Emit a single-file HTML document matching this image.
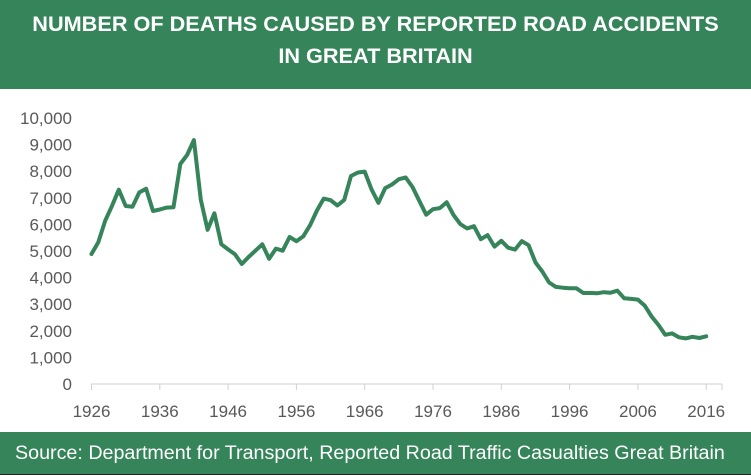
<!DOCTYPE html>
<html><head><meta charset="utf-8"><style>
body{margin:0;width:751px;height:476px;background:#fff;font-family:"Liberation Sans",sans-serif;overflow:hidden;position:relative}
.hdr{position:absolute;left:0;top:0;width:751px;height:89px;background:#35845a;color:#fff;font-weight:bold;font-size:21.7px;text-align:center;line-height:32px;padding-top:8px;box-sizing:border-box;white-space:nowrap}
.ftr{position:absolute;left:0;top:432px;width:751px;height:43px;background:#35845a;color:#fff;font-size:19.7px;line-height:42px;padding-left:15px;box-sizing:border-box;border-bottom:1px solid #222;white-space:nowrap}
svg{position:absolute;left:0;top:0}
</style></head><body>
<div class="hdr">NUMBER OF DEATHS CAUSED BY REPORTED ROAD ACCIDENTS<br>IN GREAT BRITAIN</div>
<svg id="s" width="751" height="476" font-family="Liberation Sans, sans-serif" font-size="17" fill="#595959"></svg>
<div class="ftr">Source: Department for Transport, Reported Road Traffic Casualties Great Britain</div>
<script>
var d=[4886,5329,6138,6696,7305,6691,6667,7202,7343,6502,6561,6633,6648,8272,8609,9169,6926,5796,6416,5256,5062,4881,4513,4773,5012,5250,4706,5090,5010,5526,5367,5550,5970,6520,6970,6908,6709,6922,7820,7952,7985,7319,6810,7365,7499,7699,7763,7406,6883,6366,6570,6614,6831,6352,6010,5846,5934,5445,5599,5165,5382,5125,5052,5373,5217,4568,4229,3814,3650,3621,3598,3599,3422,3423,3409,3450,3431,3508,3221,3201,3172,2946,2538,2222,1850,1901,1754,1713,1775,1730,1792];
var X=function(y){return 91.5+(y-1926)*6.83},Y=function(v){return 384-v*0.0266};
var h='';
for(var i=0;i<=10;i++){var v=i*1000;h+='<text x="72" y="'+(Y(v)+6)+'" text-anchor="end">'+(v?v.toLocaleString('en-US'):'0')+'</text>';}
h+='<line x1="91" y1="384" x2="722" y2="384" stroke="#d0d0d0"/>';
for(var y=1926;y<=2016;y+=10){h+='<line x1="'+X(y)+'" y1="384" x2="'+X(y)+'" y2="390" stroke="#d0d0d0"/><text x="'+X(y)+'" y="417" text-anchor="middle">'+y+'</text>';}
h+='<line x1="722" y1="384" x2="722" y2="390" stroke="#d0d0d0"/>';
var p=d.map(function(v,i){return X(1926+i).toFixed(1)+','+Y(v).toFixed(1)}).join(' ');
h+='<polyline points="'+p+'" fill="none" stroke="#35845a" stroke-width="4" stroke-linejoin="round" stroke-linecap="round"/>';
document.getElementById('s').innerHTML=h;
</script>
</body></html>
